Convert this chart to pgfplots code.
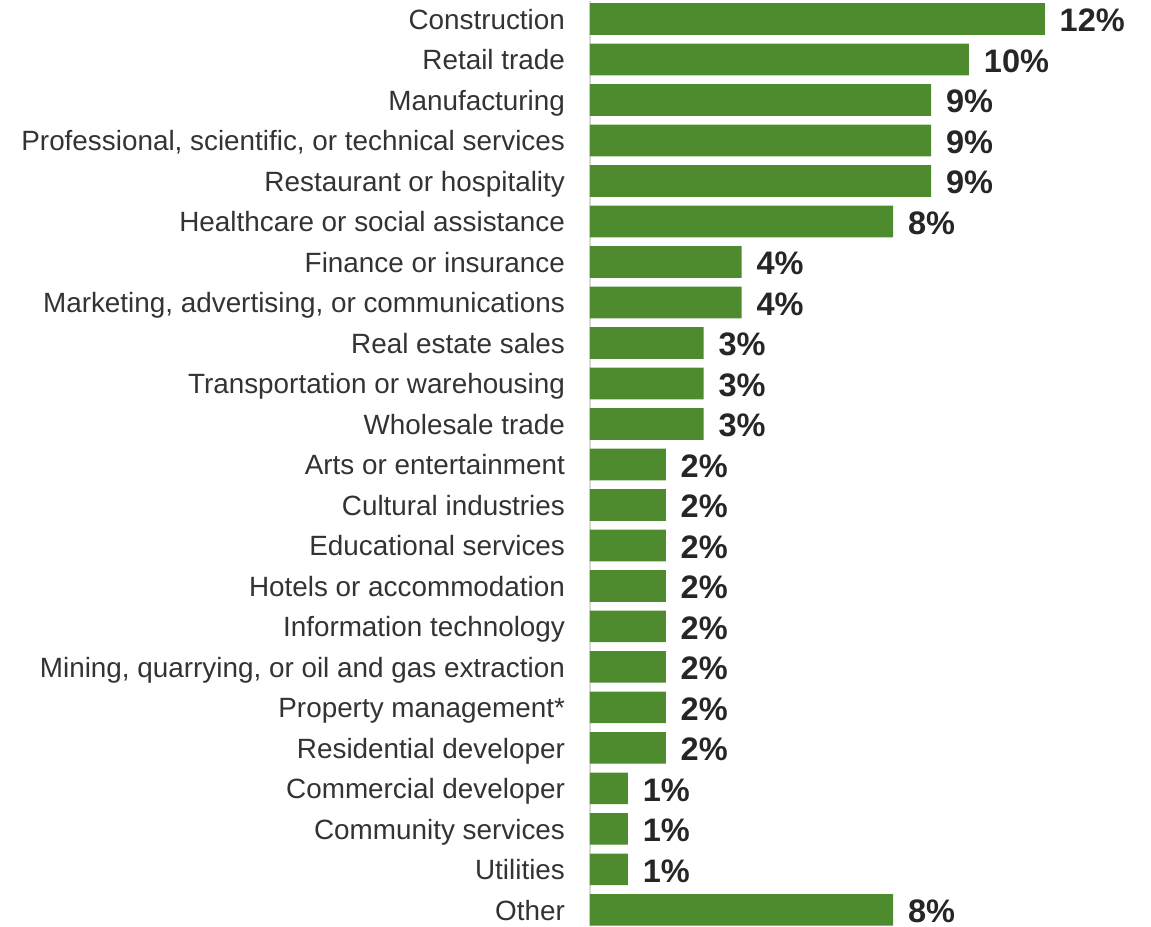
\documentclass[border=0pt]{standalone}
\usepackage{pgfplots}
\pgfplotsset{compat=1.18}
\usepackage{fontspec}
\setmainfont{Liberation Sans}
\definecolor{barg}{HTML}{4E8A2E}
\definecolor{lab}{HTML}{333333}
\definecolor{val}{HTML}{262626}
\definecolor{axl}{HTML}{D9D9D9}
\begin{document}
\begin{tikzpicture}
\begin{axis}[
  x=28.43pt, y=30.375pt,
  y dir=reverse,
  xmin=0, xmax=14.802,
  ymin=-0.457, ymax=22.4,
  enlargelimits=false,
  clip=false,
  axis x line=none,
  axis y line*=left,
  axis line style={draw=axl, line width=0.8pt},
  ytick={0,...,22},
  yticklabels={{Construction},{Retail trade},{Manufacturing},{Professional, scientific, or technical services},{Restaurant or hospitality},{Healthcare or social assistance},{Finance or insurance},{Marketing, advertising, or communications},{Real estate sales},{Transportation or warehousing},{Wholesale trade},{Arts or entertainment},{Cultural industries},{Educational services},{Hotels or accommodation},{Information technology},{Mining, quarrying, or oil and gas extraction},{Property management*},{Residential developer},{Commercial developer},{Community services},{Utilities},{Other}},
  ytick style={draw=none},
  major tick length=0pt,
  yticklabel style={anchor=east, inner sep=0pt, xshift=-18.6pt, yshift=-0.3pt, text=lab, font=\fontsize{20.9}{25}\selectfont, text height=14.96pt, text depth=0pt},
  /pgf/number format/assume math mode=true,
  xbar,
  bar width=23.7pt,
  point meta=x,
  nodes near coords={\pgfmathprintnumber{\pgfplotspointmeta}\%},
  nodes near coords style={anchor=west, inner sep=0pt, xshift=11pt, yshift=-0.9pt, text=val, font=\bfseries\fontsize{24.4}{28}\selectfont, text height=17.47pt, text depth=0pt},
]
\addplot[fill=barg, draw=none] coordinates {
(12,0) (10,1) (9,2) (9,3) (9,4) (8,5) (4,6) (4,7) (3,8) (3,9) (3,10)
(2,11) (2,12) (2,13) (2,14) (2,15) (2,16) (2,17) (2,18) (1,19) (1,20) (1,21) (8,22)
};
\path (axis cs:-15.567,-0.457) rectangle (axis cs:14.802,22.4);
\end{axis}
\end{tikzpicture}
\end{document}
